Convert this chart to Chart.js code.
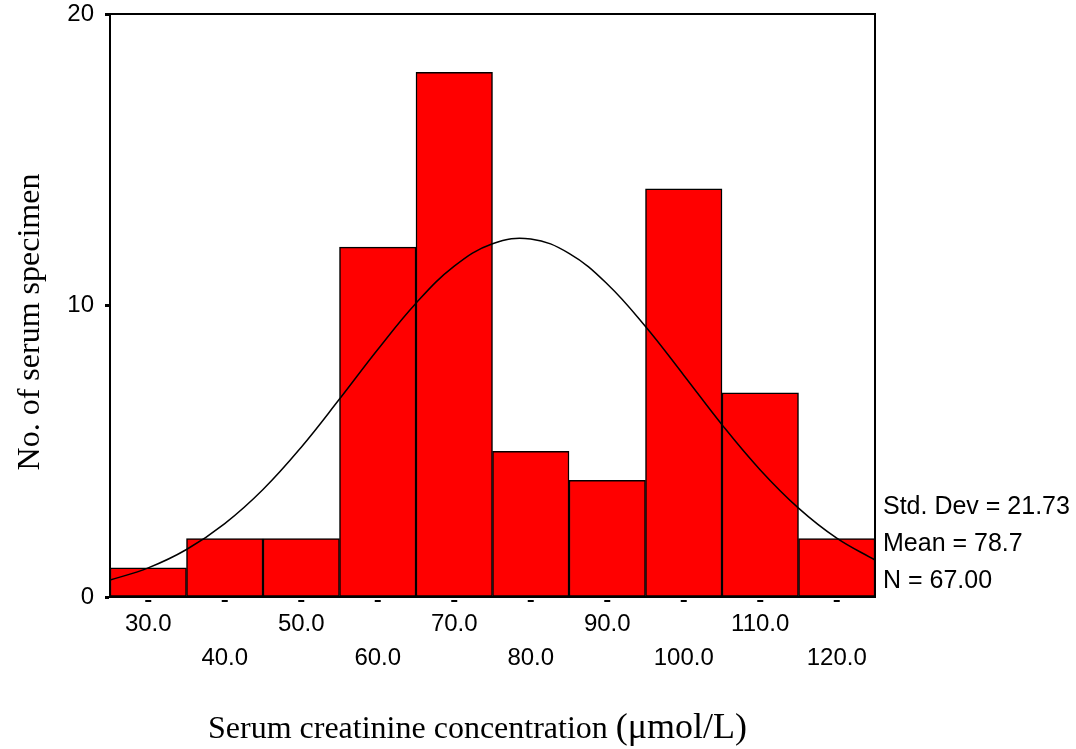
<!DOCTYPE html>
<html>
<head>
<meta charset="utf-8">
<script src="https://cdn.jsdelivr.net/npm/chart.js@4.4.0/dist/chart.umd.min.js"></script>
<style>
  body { margin: 0; background: #fff; }
  canvas { display: block; }
</style>
</head>
<body>
<canvas id="chart" width="1076" height="749"></canvas>
<script>
'use strict'

// histogram bins (bin centres, width 10)
var binCentres = [30, 40, 50, 60, 70, 80, 90, 100, 110, 120];
var binCounts = [1, 2, 2, 12, 18, 5, 4, 14, 7, 2];

// fitted normal curve
var curveX = [25, 30, 35, 40, 45, 50, 55, 60, 65, 70, 75, 80, 85, 90, 95, 100, 105, 110, 115, 120, 125];
var curveY = [0.58, 1.0, 1.63, 2.52, 3.69, 5.14, 6.79, 8.49, 10.08, 11.35, 12.12, 12.28, 11.79, 10.74, 9.28, 7.61, 5.91, 4.36, 3.05, 2.02, 1.27];

var yTicks = [0, 10, 20];
var statLines = ['Std. Dev = 21.73', 'Mean = 78.7', 'N = 67.00'];

var xTitle = 'Serum creatinine concentration ';
var xTitleUnit = '(\u03bcmol/L)';
var yTitle = 'No. of serum specimen';

var sansFont = 'Arial, "Liberation Sans", sans-serif';
var serifFont = '"Times New Roman", "Liberation Serif", serif';

var extras = {
	id: 'extras',
	afterDraw: function(chart) {
		var c = chart.ctx;
		var a = chart.chartArea;
		var xs = chart.scales.x;
		c.save();
		// frame
		c.strokeStyle = '#000';
		c.lineWidth = 2;
		c.strokeRect(a.left, a.top, a.right - a.left, a.bottom - a.top);
		// little dashes under the axis
		c.fillStyle = '#000';
		binCentres.forEach(function(v) {
			var px = xs.getPixelForValue(v);
			c.fillRect(px - 3, a.bottom + 3, 6, 2);
		});
		// stats text
		c.font = '25px ' + sansFont;
		c.textBaseline = 'middle';
		c.textAlign = 'left';
		statLines.forEach(function(s, k) {
			c.fillText(s, a.right + 8, 507 + k * 37);
		});
		// x title, unit in a larger size
		c.textBaseline = 'alphabetic';
		c.font = '32px ' + serifFont;
		var w1 = c.measureText(xTitle).width;
		var x0 = 208;
		c.fillText(xTitle, x0, 738);
		c.font = '36px ' + serifFont;
		c.fillText(xTitleUnit, x0 + w1, 738);
		// y title
		c.translate(31, 322);
		c.rotate(-Math.PI / 2);
		c.font = '32px ' + serifFont;
		c.textAlign = 'center';
		c.textBaseline = 'middle';
		c.fillText(yTitle, 0, 0);
		c.restore();
	}
};

window.onload = function() {
	var ctx = document.getElementById('chart').getContext('2d');

	var bars = binCentres.map(function(v, k) { return { x: v, y: binCounts[k] }; });
	var curve = curveX.map(function(v, k) { return { x: v, y: curveY[k] }; });

	new Chart(ctx, {
		type: 'bar',
		data: {
			datasets: [{
				type: 'line',
				data: curve,
				borderColor: '#000',
				borderWidth: 1.5,
				pointRadius: 0,
				tension: 0.4,
				fill: false
			}, {
				type: 'bar',
				data: bars,
				backgroundColor: '#ff0000',
				borderColor: '#000',
				borderWidth: 1.5,
				borderSkipped: false,
				barPercentage: 1,
				categoryPercentage: 1
			}]
		},
		options: {
			responsive: false,
			animation: false,
			devicePixelRatio: 1,
			layout: { padding: { top: 14, right: 201, left: 0, bottom: 0 } },
			plugins: { legend: { display: false }, tooltip: { enabled: false } },
			scales: {
				x: {
					type: 'linear',
					min: 25,
					max: 125,
					offset: false,
					afterFit: function(s) {
						s.height = 152;
						s.paddingLeft = 0;
						s.paddingRight = 0;
					},
					afterBuildTicks: function(s) {
						s.ticks = binCentres.map(function(v) { return { value: v }; });
					},
					grid: { display: false },
					border: { display: true, color: '#000', width: 2 },
					ticks: {
						autoSkip: false,
						maxRotation: 0,
						padding: 2,
						color: '#000',
						font: { family: sansFont, size: 24, lineHeight: '34px' },
						callback: function(v, k) {
							var s = Number(v).toFixed(1);
							return k % 2 === 0 ? [s] : ['', s];
						}
					}
				},
				y: {
					min: 0,
					max: 20,
					afterFit: function(s) {
						s.width = 110;
						s.paddingTop = 0;
						s.paddingBottom = 0;
					},
					afterBuildTicks: function(s) {
						s.ticks = yTicks.map(function(v) { return { value: v }; });
					},
					grid: { drawOnChartArea: false, drawTicks: true, tickLength: 5, tickWidth: 3, color: '#000' },
					border: { display: true, color: '#000', width: 2 },
					ticks: {
						padding: 11,
						color: '#000',
						font: { family: sansFont, size: 24 }
					}
				}
			}
		},
		plugins: [extras]
	});
};
</script>
</body>
</html>
